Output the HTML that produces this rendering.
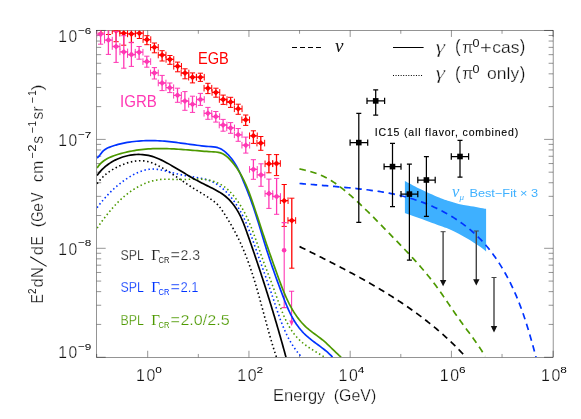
<!DOCTYPE html>
<html><head><meta charset="utf-8"><title>chart</title>
<style>html,body{margin:0;padding:0;background:#fff;}svg{display:block;will-change:transform;}text{font-family:"Liberation Sans",sans-serif;}.se{font-family:"Liberation Serif",serif;}</style>
</head><body>
<svg width="581" height="419" viewBox="0 0 581 419">
<rect width="581" height="419" fill="#fff"/>
<defs><clipPath id="cp"><rect x="96.70" y="30.45" width="456.40" height="326.80"/></clipPath></defs>
<g stroke="#000" stroke-width="0.42" fill="none">
<rect x="96.70" y="30.45" width="456.40" height="326.80"/>
<path d="M96.70 357.25 V353.95 M96.70 30.45 V33.75 M147.70 357.25 V350.75 M147.70 30.45 V36.95 M198.32 357.25 V353.95 M198.32 30.45 V33.75 M248.94 357.25 V350.75 M248.94 30.45 V36.95 M299.56 357.25 V353.95 M299.56 30.45 V33.75 M350.18 357.25 V350.75 M350.18 30.45 V36.95 M400.80 357.25 V353.95 M400.80 30.45 V33.75 M451.42 357.25 V350.75 M451.42 30.45 V36.95 M502.04 357.25 V353.95 M502.04 30.45 V33.75 M553.10 357.25 V350.75 M553.10 30.45 V36.95 M96.70 357.25 H105.70 M553.10 357.25 H544.10 M96.70 324.42 H101.20 M553.10 324.42 H548.60 M96.70 305.24 H101.20 M553.10 305.24 H548.60 M96.70 291.64 H101.20 M553.10 291.64 H548.60 M96.70 281.08 H101.20 M553.10 281.08 H548.60 M96.70 272.46 H101.20 M553.10 272.46 H548.60 M96.70 265.17 H101.20 M553.10 265.17 H548.60 M96.70 258.85 H101.20 M553.10 258.85 H548.60 M96.70 253.28 H101.20 M553.10 253.28 H548.60 M96.70 248.30 H105.70 M553.10 248.30 H544.10 M96.70 215.52 H101.20 M553.10 215.52 H548.60 M96.70 196.34 H101.20 M553.10 196.34 H548.60 M96.70 182.74 H101.20 M553.10 182.74 H548.60 M96.70 172.18 H101.20 M553.10 172.18 H548.60 M96.70 163.56 H101.20 M553.10 163.56 H548.60 M96.70 156.27 H101.20 M553.10 156.27 H548.60 M96.70 149.95 H101.20 M553.10 149.95 H548.60 M96.70 144.38 H101.20 M553.10 144.38 H548.60 M96.70 139.40 H105.70 M553.10 139.40 H544.10 M96.70 106.62 H101.20 M553.10 106.62 H548.60 M96.70 87.44 H101.20 M553.10 87.44 H548.60 M96.70 73.84 H101.20 M553.10 73.84 H548.60 M96.70 63.28 H101.20 M553.10 63.28 H548.60 M96.70 54.66 H101.20 M553.10 54.66 H548.60 M96.70 47.37 H101.20 M553.10 47.37 H548.60 M96.70 41.05 H101.20 M553.10 41.05 H548.60 M96.70 35.48 H101.20 M553.10 35.48 H548.60 M96.70 30.45 H105.70 M553.10 30.45 H544.10 "/>
</g>
<g clip-path="url(#cp)">
<path d="M404.90 181.00 C407.35 182.30 413.90 186.03 419.60 188.80 C425.30 191.57 434.22 195.55 439.10 197.60 C443.98 199.65 445.63 200.05 448.90 201.10 C452.17 202.15 455.43 203.12 458.70 203.90 C461.97 204.68 465.23 205.22 468.50 205.80 C471.77 206.38 475.37 206.90 478.30 207.40 C481.23 207.90 484.80 208.57 486.10 208.80 L486.10 251.40 C484.80 250.43 481.23 247.62 478.30 245.60 C475.37 243.58 471.77 241.27 468.50 239.30 C465.23 237.33 461.97 235.53 458.70 233.80 C455.43 232.07 452.17 230.30 448.90 228.90 C445.63 227.50 443.98 227.18 439.10 225.40 C434.22 223.62 425.30 220.28 419.60 218.20 C413.90 216.12 407.35 213.78 404.90 212.90 Z" fill="#3eb0ff"/>
<g stroke="#ff0000" stroke-width="1.30" fill="none"><path d="M100.90 18.00 V33.00 M97.05 24.00 H104.75"/><path stroke-width="1" d="M98.30 18.00 H103.50 M98.30 33.00 H103.50 M97.05 20.70 V27.30 M104.75 20.70 V27.30"/></g><path d="M98.95 24.00 L100.90 22.05 L102.85 24.00 L100.90 25.95Z" fill="#ff0000" stroke="#ff0000" stroke-width="1.5" stroke-linejoin="round"/>
<g stroke="#ff0000" stroke-width="1.30" fill="none"><path d="M108.50 20.00 V34.50 M104.65 25.00 H112.35"/><path stroke-width="1" d="M105.90 20.00 H111.10 M105.90 34.50 H111.10 M104.65 21.70 V28.30 M112.35 21.70 V28.30"/></g><path d="M106.55 25.00 L108.50 23.05 L110.45 25.00 L108.50 26.95Z" fill="#ff0000" stroke="#ff0000" stroke-width="1.5" stroke-linejoin="round"/>
<g stroke="#ff0000" stroke-width="1.30" fill="none"><path d="M116.10 24.00 V41.70 M112.25 30.80 H119.95"/><path stroke-width="1" d="M113.50 24.00 H118.70 M113.50 41.70 H118.70 M112.25 27.50 V34.10 M119.95 27.50 V34.10"/></g><path d="M114.15 30.80 L116.10 28.85 L118.05 30.80 L116.10 32.75Z" fill="#ff0000" stroke="#ff0000" stroke-width="1.5" stroke-linejoin="round"/>
<g stroke="#ff0000" stroke-width="1.30" fill="none"><path d="M123.70 26.00 V45.20 M119.85 33.20 H127.55"/><path stroke-width="1" d="M121.10 26.00 H126.30 M121.10 45.20 H126.30 M119.85 29.90 V36.50 M127.55 29.90 V36.50"/></g><path d="M121.75 33.20 L123.70 31.25 L125.65 33.20 L123.70 35.15Z" fill="#ff0000" stroke="#ff0000" stroke-width="1.5" stroke-linejoin="round"/>
<g stroke="#ff0000" stroke-width="1.30" fill="none"><path d="M131.40 28.00 V42.60 M127.55 33.90 H135.25"/><path stroke-width="1" d="M128.80 28.00 H134.00 M128.80 42.60 H134.00 M127.55 30.60 V37.20 M135.25 30.60 V37.20"/></g><path d="M129.45 33.90 L131.40 31.95 L133.35 33.90 L131.40 35.85Z" fill="#ff0000" stroke="#ff0000" stroke-width="1.5" stroke-linejoin="round"/>
<g stroke="#ff0000" stroke-width="1.30" fill="none"><path d="M139.40 28.00 V38.50 M135.55 33.20 H143.25"/><path stroke-width="1" d="M136.80 28.00 H142.00 M136.80 38.50 H142.00 M135.55 29.90 V36.50 M143.25 29.90 V36.50"/></g><path d="M137.45 33.20 L139.40 31.25 L141.35 33.20 L139.40 35.15Z" fill="#ff0000" stroke="#ff0000" stroke-width="1.5" stroke-linejoin="round"/>
<g stroke="#ff0000" stroke-width="1.30" fill="none"><path d="M146.90 35.70 V44.70 M143.05 39.60 H150.75"/><path stroke-width="1" d="M144.30 35.70 H149.50 M144.30 44.70 H149.50 M143.05 36.30 V42.90 M150.75 36.30 V42.90"/></g><path d="M144.95 39.60 L146.90 37.65 L148.85 39.60 L146.90 41.55Z" fill="#ff0000" stroke="#ff0000" stroke-width="1.5" stroke-linejoin="round"/>
<g stroke="#ff0000" stroke-width="1.30" fill="none"><path d="M154.40 43.00 V52.80 M150.55 47.30 H158.25"/><path stroke-width="1" d="M151.80 43.00 H157.00 M151.80 52.80 H157.00 M150.55 44.00 V50.60 M158.25 44.00 V50.60"/></g><path d="M152.45 47.30 L154.40 45.35 L156.35 47.30 L154.40 49.25Z" fill="#ff0000" stroke="#ff0000" stroke-width="1.5" stroke-linejoin="round"/>
<g stroke="#ff0000" stroke-width="1.30" fill="none"><path d="M162.10 50.70 V61.00 M158.25 55.00 H165.95"/><path stroke-width="1" d="M159.50 50.70 H164.70 M159.50 61.00 H164.70 M158.25 51.70 V58.30 M165.95 51.70 V58.30"/></g><path d="M160.15 55.00 L162.10 53.05 L164.05 55.00 L162.10 56.95Z" fill="#ff0000" stroke="#ff0000" stroke-width="1.5" stroke-linejoin="round"/>
<g stroke="#ff0000" stroke-width="1.30" fill="none"><path d="M169.90 55.50 V64.30 M166.05 59.40 H173.75"/><path stroke-width="1" d="M167.30 55.50 H172.50 M167.30 64.30 H172.50 M166.05 56.10 V62.70 M173.75 56.10 V62.70"/></g><path d="M167.95 59.40 L169.90 57.45 L171.85 59.40 L169.90 61.35Z" fill="#ff0000" stroke="#ff0000" stroke-width="1.5" stroke-linejoin="round"/>
<g stroke="#ff0000" stroke-width="1.30" fill="none"><path d="M177.60 62.10 V71.80 M173.75 66.30 H181.45"/><path stroke-width="1" d="M175.00 62.10 H180.20 M175.00 71.80 H180.20 M173.75 63.00 V69.60 M181.45 63.00 V69.60"/></g><path d="M175.65 66.30 L177.60 64.35 L179.55 66.30 L177.60 68.25Z" fill="#ff0000" stroke="#ff0000" stroke-width="1.5" stroke-linejoin="round"/>
<g stroke="#ff0000" stroke-width="1.30" fill="none"><path d="M185.00 68.80 V78.80 M181.15 73.00 H188.85"/><path stroke-width="1" d="M182.40 68.80 H187.60 M182.40 78.80 H187.60 M181.15 69.70 V76.30 M188.85 69.70 V76.30"/></g><path d="M183.05 73.00 L185.00 71.05 L186.95 73.00 L185.00 74.95Z" fill="#ff0000" stroke="#ff0000" stroke-width="1.5" stroke-linejoin="round"/>
<g stroke="#ff0000" stroke-width="1.30" fill="none"><path d="M192.50 72.90 V82.90 M188.65 77.20 H196.35"/><path stroke-width="1" d="M189.90 72.90 H195.10 M189.90 82.90 H195.10 M188.65 73.90 V80.50 M196.35 73.90 V80.50"/></g><path d="M190.55 77.20 L192.50 75.25 L194.45 77.20 L192.50 79.15Z" fill="#ff0000" stroke="#ff0000" stroke-width="1.5" stroke-linejoin="round"/>
<g stroke="#ff0000" stroke-width="1.30" fill="none"><path d="M200.40 73.20 V81.40 M196.55 77.20 H204.25"/><path stroke-width="1" d="M197.80 73.20 H203.00 M197.80 81.40 H203.00 M196.55 73.90 V80.50 M204.25 73.90 V80.50"/></g><path d="M198.45 77.20 L200.40 75.25 L202.35 77.20 L200.40 79.15Z" fill="#ff0000" stroke="#ff0000" stroke-width="1.5" stroke-linejoin="round"/>
<g stroke="#ff0000" stroke-width="1.30" fill="none"><path d="M207.90 83.30 V93.60 M204.05 88.20 H211.75"/><path stroke-width="1" d="M205.30 83.30 H210.50 M205.30 93.60 H210.50 M204.05 84.90 V91.50 M211.75 84.90 V91.50"/></g><path d="M205.95 88.20 L207.90 86.25 L209.85 88.20 L207.90 90.15Z" fill="#ff0000" stroke="#ff0000" stroke-width="1.5" stroke-linejoin="round"/>
<g stroke="#ff0000" stroke-width="1.30" fill="none"><path d="M215.90 88.20 V97.20 M212.05 92.40 H219.75"/><path stroke-width="1" d="M213.30 88.20 H218.50 M213.30 97.20 H218.50 M212.05 89.10 V95.70 M219.75 89.10 V95.70"/></g><path d="M213.95 92.40 L215.90 90.45 L217.85 92.40 L215.90 94.35Z" fill="#ff0000" stroke="#ff0000" stroke-width="1.5" stroke-linejoin="round"/>
<g stroke="#ff0000" stroke-width="1.30" fill="none"><path d="M223.20 95.10 V104.40 M219.35 99.50 H227.05"/><path stroke-width="1" d="M220.60 95.10 H225.80 M220.60 104.40 H225.80 M219.35 96.20 V102.80 M227.05 96.20 V102.80"/></g><path d="M221.25 99.50 L223.20 97.55 L225.15 99.50 L223.20 101.45Z" fill="#ff0000" stroke="#ff0000" stroke-width="1.5" stroke-linejoin="round"/>
<g stroke="#ff0000" stroke-width="1.30" fill="none"><path d="M230.60 97.30 V107.40 M226.75 102.00 H234.45"/><path stroke-width="1" d="M228.00 97.30 H233.20 M228.00 107.40 H233.20 M226.75 98.70 V105.30 M234.45 98.70 V105.30"/></g><path d="M228.65 102.00 L230.60 100.05 L232.55 102.00 L230.60 103.95Z" fill="#ff0000" stroke="#ff0000" stroke-width="1.5" stroke-linejoin="round"/>
<g stroke="#ff0000" stroke-width="1.30" fill="none"><path d="M238.20 104.20 V114.30 M234.35 108.80 H242.05"/><path stroke-width="1" d="M235.60 104.20 H240.80 M235.60 114.30 H240.80 M234.35 105.50 V112.10 M242.05 105.50 V112.10"/></g><path d="M236.25 108.80 L238.20 106.85 L240.15 108.80 L238.20 110.75Z" fill="#ff0000" stroke="#ff0000" stroke-width="1.5" stroke-linejoin="round"/>
<g stroke="#ff0000" stroke-width="1.30" fill="none"><path d="M245.70 115.00 V125.40 M241.85 119.80 H249.55"/><path stroke-width="1" d="M243.10 115.00 H248.30 M243.10 125.40 H248.30 M241.85 116.50 V123.10 M249.55 116.50 V123.10"/></g><path d="M243.75 119.80 L245.70 117.85 L247.65 119.80 L245.70 121.75Z" fill="#ff0000" stroke="#ff0000" stroke-width="1.5" stroke-linejoin="round"/>
<g stroke="#ff0000" stroke-width="1.30" fill="none"><path d="M253.40 130.80 V143.40 M249.55 135.80 H257.25"/><path stroke-width="1" d="M250.80 130.80 H256.00 M250.80 143.40 H256.00 M249.55 132.50 V139.10 M257.25 132.50 V139.10"/></g><path d="M251.45 135.80 L253.40 133.85 L255.35 135.80 L253.40 137.75Z" fill="#ff0000" stroke="#ff0000" stroke-width="1.5" stroke-linejoin="round"/>
<g stroke="#ff0000" stroke-width="1.30" fill="none"><path d="M260.80 136.50 V150.30 M256.95 143.10 H264.65"/><path stroke-width="1" d="M258.20 136.50 H263.40 M258.20 150.30 H263.40 M256.95 139.80 V146.40 M264.65 139.80 V146.40"/></g><path d="M258.85 143.10 L260.80 141.15 L262.75 143.10 L260.80 145.05Z" fill="#ff0000" stroke="#ff0000" stroke-width="1.5" stroke-linejoin="round"/>
<g stroke="#ff0000" stroke-width="1.30" fill="none"><path d="M268.90 154.60 V172.80 M265.05 163.80 H272.75"/><path stroke-width="1" d="M266.30 154.60 H271.50 M266.30 172.80 H271.50 M265.05 160.50 V167.10 M272.75 160.50 V167.10"/></g><path d="M266.95 163.80 L268.90 161.85 L270.85 163.80 L268.90 165.75Z" fill="#ff0000" stroke="#ff0000" stroke-width="1.5" stroke-linejoin="round"/>
<g stroke="#ff0000" stroke-width="1.30" fill="none"><path d="M276.50 154.60 V175.60 M272.65 163.50 H280.35"/><path stroke-width="1" d="M273.90 154.60 H279.10 M273.90 175.60 H279.10 M272.65 160.20 V166.80 M280.35 160.20 V166.80"/></g><path d="M274.55 163.50 L276.50 161.55 L278.45 163.50 L276.50 165.45Z" fill="#ff0000" stroke="#ff0000" stroke-width="1.5" stroke-linejoin="round"/>
<g stroke="#ff0000" stroke-width="1.30" fill="none"><path d="M284.20 184.50 V226.40 M280.35 200.70 H288.05"/><path stroke-width="1" d="M281.60 184.50 H286.80 M281.60 226.40 H286.80 M280.35 197.40 V204.00 M288.05 197.40 V204.00"/></g><path d="M282.25 200.70 L284.20 198.75 L286.15 200.70 L284.20 202.65Z" fill="#ff0000" stroke="#ff0000" stroke-width="1.5" stroke-linejoin="round"/>
<g stroke="#ff0000" stroke-width="1.30" fill="none"><path d="M291.80 198.20 V268.20 M287.95 220.50 H295.65"/><path stroke-width="1" d="M289.20 198.20 H294.40 M289.20 268.20 H294.40 M287.95 217.20 V223.80 M295.65 217.20 V223.80"/></g><path d="M289.85 220.50 L291.80 218.55 L293.75 220.50 L291.80 222.45Z" fill="#ff0000" stroke="#ff0000" stroke-width="1.5" stroke-linejoin="round"/>
<g stroke="#ff38b4" stroke-width="1.30" fill="none"><path d="M100.60 26.00 V44.20 M96.75 34.20 H104.45"/><path stroke-width="1" d="M98.00 26.00 H103.20 M98.00 44.20 H103.20 M96.75 30.90 V37.50 M104.45 30.90 V37.50"/></g><path d="M98.65 34.20 L100.60 32.25 L102.55 34.20 L100.60 36.15Z" fill="#ff38b4" stroke="#ff38b4" stroke-width="1.5" stroke-linejoin="round"/>
<g stroke="#ff38b4" stroke-width="1.30" fill="none"><path d="M108.40 28.00 V54.40 M104.55 40.10 H112.25"/><path stroke-width="1" d="M105.80 28.00 H111.00 M105.80 54.40 H111.00 M104.55 36.80 V43.40 M112.25 36.80 V43.40"/></g><path d="M106.45 40.10 L108.40 38.15 L110.35 40.10 L108.40 42.05Z" fill="#ff38b4" stroke="#ff38b4" stroke-width="1.5" stroke-linejoin="round"/>
<g stroke="#ff38b4" stroke-width="1.30" fill="none"><path d="M116.10 31.60 V62.40 M112.25 46.50 H119.95"/><path stroke-width="1" d="M113.50 31.60 H118.70 M113.50 62.40 H118.70 M112.25 43.20 V49.80 M119.95 43.20 V49.80"/></g><path d="M114.15 46.50 L116.10 44.55 L118.05 46.50 L116.10 48.45Z" fill="#ff38b4" stroke="#ff38b4" stroke-width="1.5" stroke-linejoin="round"/>
<g stroke="#ff38b4" stroke-width="1.30" fill="none"><path d="M123.80 35.70 V68.20 M119.95 51.90 H127.65"/><path stroke-width="1" d="M121.20 35.70 H126.40 M121.20 68.20 H126.40 M119.95 48.60 V55.20 M127.65 48.60 V55.20"/></g><path d="M121.85 51.90 L123.80 49.95 L125.75 51.90 L123.80 53.85Z" fill="#ff38b4" stroke="#ff38b4" stroke-width="1.5" stroke-linejoin="round"/>
<g stroke="#ff38b4" stroke-width="1.30" fill="none"><path d="M131.40 42.30 V66.40 M127.55 54.60 H135.25"/><path stroke-width="1" d="M128.80 42.30 H134.00 M128.80 66.40 H134.00 M127.55 51.30 V57.90 M135.25 51.30 V57.90"/></g><path d="M129.45 54.60 L131.40 52.65 L133.35 54.60 L131.40 56.55Z" fill="#ff38b4" stroke="#ff38b4" stroke-width="1.5" stroke-linejoin="round"/>
<g stroke="#ff38b4" stroke-width="1.30" fill="none"><path d="M139.10 46.50 V59.20 M135.25 52.20 H142.95"/><path stroke-width="1" d="M136.50 46.50 H141.70 M136.50 59.20 H141.70 M135.25 48.90 V55.50 M142.95 48.90 V55.50"/></g><path d="M137.15 52.20 L139.10 50.25 L141.05 52.20 L139.10 54.15Z" fill="#ff38b4" stroke="#ff38b4" stroke-width="1.5" stroke-linejoin="round"/>
<g stroke="#ff38b4" stroke-width="1.30" fill="none"><path d="M146.80 56.20 V67.20 M142.95 61.60 H150.65"/><path stroke-width="1" d="M144.20 56.20 H149.40 M144.20 67.20 H149.40 M142.95 58.30 V64.90 M150.65 58.30 V64.90"/></g><path d="M144.85 61.60 L146.80 59.65 L148.75 61.60 L146.80 63.55Z" fill="#ff38b4" stroke="#ff38b4" stroke-width="1.5" stroke-linejoin="round"/>
<g stroke="#ff38b4" stroke-width="1.30" fill="none"><path d="M154.40 67.60 V79.00 M150.55 72.90 H158.25"/><path stroke-width="1" d="M151.80 67.60 H157.00 M151.80 79.00 H157.00 M150.55 69.60 V76.20 M158.25 69.60 V76.20"/></g><path d="M152.45 72.90 L154.40 70.95 L156.35 72.90 L154.40 74.85Z" fill="#ff38b4" stroke="#ff38b4" stroke-width="1.5" stroke-linejoin="round"/>
<g stroke="#ff38b4" stroke-width="1.30" fill="none"><path d="M162.10 75.40 V90.60 M158.25 83.00 H165.95"/><path stroke-width="1" d="M159.50 75.40 H164.70 M159.50 90.60 H164.70 M158.25 79.70 V86.30 M165.95 79.70 V86.30"/></g><path d="M160.15 83.00 L162.10 81.05 L164.05 83.00 L162.10 84.95Z" fill="#ff38b4" stroke="#ff38b4" stroke-width="1.5" stroke-linejoin="round"/>
<g stroke="#ff38b4" stroke-width="1.30" fill="none"><path d="M169.80 83.00 V92.60 M165.95 87.70 H173.65"/><path stroke-width="1" d="M167.20 83.00 H172.40 M167.20 92.60 H172.40 M165.95 84.40 V91.00 M173.65 84.40 V91.00"/></g><path d="M167.85 87.70 L169.80 85.75 L171.75 87.70 L169.80 89.65Z" fill="#ff38b4" stroke="#ff38b4" stroke-width="1.5" stroke-linejoin="round"/>
<g stroke="#ff38b4" stroke-width="1.30" fill="none"><path d="M177.50 88.20 V102.30 M173.65 95.30 H181.35"/><path stroke-width="1" d="M174.90 88.20 H180.10 M174.90 102.30 H180.10 M173.65 92.00 V98.60 M181.35 92.00 V98.60"/></g><path d="M175.55 95.30 L177.50 93.35 L179.45 95.30 L177.50 97.25Z" fill="#ff38b4" stroke="#ff38b4" stroke-width="1.5" stroke-linejoin="round"/>
<g stroke="#ff38b4" stroke-width="1.30" fill="none"><path d="M184.90 91.60 V110.30 M181.05 101.00 H188.75"/><path stroke-width="1" d="M182.30 91.60 H187.50 M182.30 110.30 H187.50 M181.05 97.70 V104.30 M188.75 97.70 V104.30"/></g><path d="M182.95 101.00 L184.90 99.05 L186.85 101.00 L184.90 102.95Z" fill="#ff38b4" stroke="#ff38b4" stroke-width="1.5" stroke-linejoin="round"/>
<g stroke="#ff38b4" stroke-width="1.30" fill="none"><path d="M192.50 96.20 V112.40 M188.65 104.30 H196.35"/><path stroke-width="1" d="M189.90 96.20 H195.10 M189.90 112.40 H195.10 M188.65 101.00 V107.60 M196.35 101.00 V107.60"/></g><path d="M190.55 104.30 L192.50 102.35 L194.45 104.30 L192.50 106.25Z" fill="#ff38b4" stroke="#ff38b4" stroke-width="1.5" stroke-linejoin="round"/>
<g stroke="#ff38b4" stroke-width="1.30" fill="none"><path d="M200.40 93.40 V105.40 M196.55 99.50 H204.25"/><path stroke-width="1" d="M197.80 93.40 H203.00 M197.80 105.40 H203.00 M196.55 96.20 V102.80 M204.25 96.20 V102.80"/></g><path d="M198.45 99.50 L200.40 97.55 L202.35 99.50 L200.40 101.45Z" fill="#ff38b4" stroke="#ff38b4" stroke-width="1.5" stroke-linejoin="round"/>
<g stroke="#ff38b4" stroke-width="1.30" fill="none"><path d="M207.90 107.40 V119.30 M204.05 113.30 H211.75"/><path stroke-width="1" d="M205.30 107.40 H210.50 M205.30 119.30 H210.50 M204.05 110.00 V116.60 M211.75 110.00 V116.60"/></g><path d="M205.95 113.30 L207.90 111.35 L209.85 113.30 L207.90 115.25Z" fill="#ff38b4" stroke="#ff38b4" stroke-width="1.5" stroke-linejoin="round"/>
<g stroke="#ff38b4" stroke-width="1.30" fill="none"><path d="M215.80 111.50 V122.10 M211.95 116.60 H219.65"/><path stroke-width="1" d="M213.20 111.50 H218.40 M213.20 122.10 H218.40 M211.95 113.30 V119.90 M219.65 113.30 V119.90"/></g><path d="M213.85 116.60 L215.80 114.65 L217.75 116.60 L215.80 118.55Z" fill="#ff38b4" stroke="#ff38b4" stroke-width="1.5" stroke-linejoin="round"/>
<g stroke="#ff38b4" stroke-width="1.30" fill="none"><path d="M223.10 119.40 V131.20 M219.25 125.00 H226.95"/><path stroke-width="1" d="M220.50 119.40 H225.70 M220.50 131.20 H225.70 M219.25 121.70 V128.30 M226.95 121.70 V128.30"/></g><path d="M221.15 125.00 L223.10 123.05 L225.05 125.00 L223.10 126.95Z" fill="#ff38b4" stroke="#ff38b4" stroke-width="1.5" stroke-linejoin="round"/>
<g stroke="#ff38b4" stroke-width="1.30" fill="none"><path d="M230.60 122.60 V133.30 M226.75 127.90 H234.45"/><path stroke-width="1" d="M228.00 122.60 H233.20 M228.00 133.30 H233.20 M226.75 124.60 V131.20 M234.45 124.60 V131.20"/></g><path d="M228.65 127.90 L230.60 125.95 L232.55 127.90 L230.60 129.85Z" fill="#ff38b4" stroke="#ff38b4" stroke-width="1.5" stroke-linejoin="round"/>
<g stroke="#ff38b4" stroke-width="1.30" fill="none"><path d="M238.20 128.50 V141.30 M234.35 134.80 H242.05"/><path stroke-width="1" d="M235.60 128.50 H240.80 M235.60 141.30 H240.80 M234.35 131.50 V138.10 M242.05 131.50 V138.10"/></g><path d="M236.25 134.80 L238.20 132.85 L240.15 134.80 L238.20 136.75Z" fill="#ff38b4" stroke="#ff38b4" stroke-width="1.5" stroke-linejoin="round"/>
<g stroke="#ff38b4" stroke-width="1.30" fill="none"><path d="M245.80 137.10 V153.10 M241.95 145.20 H249.65"/><path stroke-width="1" d="M243.20 137.10 H248.40 M243.20 153.10 H248.40 M241.95 141.90 V148.50 M249.65 141.90 V148.50"/></g><path d="M243.85 145.20 L245.80 143.25 L247.75 145.20 L245.80 147.15Z" fill="#ff38b4" stroke="#ff38b4" stroke-width="1.5" stroke-linejoin="round"/>
<g stroke="#ff38b4" stroke-width="1.30" fill="none"><path d="M253.40 159.70 V179.30 M249.55 169.40 H257.25"/><path stroke-width="1" d="M250.80 159.70 H256.00 M250.80 179.30 H256.00 M249.55 166.10 V172.70 M257.25 166.10 V172.70"/></g><path d="M251.45 169.40 L253.40 167.45 L255.35 169.40 L253.40 171.35Z" fill="#ff38b4" stroke="#ff38b4" stroke-width="1.5" stroke-linejoin="round"/>
<g stroke="#ff38b4" stroke-width="1.30" fill="none"><path d="M261.00 163.80 V186.30 M257.15 174.90 H264.85"/><path stroke-width="1" d="M258.40 163.80 H263.60 M258.40 186.30 H263.60 M257.15 171.60 V178.20 M264.85 171.60 V178.20"/></g><path d="M259.05 174.90 L261.00 172.95 L262.95 174.90 L261.00 176.85Z" fill="#ff38b4" stroke="#ff38b4" stroke-width="1.5" stroke-linejoin="round"/>
<g stroke="#ff38b4" stroke-width="1.30" fill="none"><path d="M268.90 179.10 V208.40 M265.05 193.60 H272.75"/><path stroke-width="1" d="M266.30 179.10 H271.50 M266.30 208.40 H271.50 M265.05 190.30 V196.90 M272.75 190.30 V196.90"/></g><path d="M266.95 193.60 L268.90 191.65 L270.85 193.60 L268.90 195.55Z" fill="#ff38b4" stroke="#ff38b4" stroke-width="1.5" stroke-linejoin="round"/>
<g stroke="#ff38b4" stroke-width="1.30" fill="none"><path d="M276.60 178.40 V214.30 M272.75 196.50 H280.45"/><path stroke-width="1" d="M274.00 178.40 H279.20 M274.00 214.30 H279.20 M272.75 193.20 V199.80 M280.45 193.20 V199.80"/></g><path d="M274.65 196.50 L276.60 194.55 L278.55 196.50 L276.60 198.45Z" fill="#ff38b4" stroke="#ff38b4" stroke-width="1.5" stroke-linejoin="round"/>
<g stroke="#ff38b4" stroke-width="1.1"><path d="M284.2 222.6 V307.6 M281.6 222.6 H286.8 M281.6 307.6 H286.8"/></g><circle cx="284.1" cy="250.2" r="2.3" fill="#ff38b4"/>
<g stroke="#ff38b4" stroke-width="1.1"><path d="M291.6 291.3 V322 M289 291.3 H294.2"/></g><path d="M289.2 320.4 L294.0 320.4 L291.6 326.0Z" fill="#ff38b4"/>
<path d="M97.08 183.74 L98.27 182.12 L99.51 180.59 L100.79 179.12 L102.12 177.73 L103.49 176.40 L104.90 175.13 L106.35 173.93 L107.84 172.78 L109.37 171.68 L110.93 170.64 L112.54 169.64 L114.18 168.69 L115.85 167.79 L117.57 166.92 L119.31 166.09 L121.09 165.30 L122.90 164.54 L124.73 163.83 L126.59 163.18 L128.46 162.58 L130.35 162.06 L132.25 161.60 L134.15 161.23 L136.06 160.95 L137.96 160.77 L139.86 160.68 L141.75 160.71 L143.63 160.86 L145.48 161.13 L147.33 161.50 L149.15 161.98 L150.96 162.55 L152.75 163.21 L154.53 163.94 L156.28 164.73 L158.02 165.57 L159.74 166.47 L161.45 167.40 L163.13 168.36 L164.80 169.33 L166.45 170.33 L168.08 171.34 L169.70 172.37 L171.31 173.41 L172.91 174.46 L174.51 175.52 L176.09 176.58 L177.67 177.66 L179.25 178.73 L180.83 179.81 L182.40 180.89 L183.98 181.97 L185.56 183.05 L187.14 184.12 L188.73 185.18 L190.33 186.24 L191.94 187.28 L193.56 188.32 L195.20 189.34 L196.84 190.35 L198.49 191.35 L200.14 192.36 L201.79 193.36 L203.44 194.37 L205.08 195.38 L206.71 196.41 L208.33 197.46 L209.92 198.52 L211.50 199.61 L213.04 200.73 L214.54 201.89 L215.99 203.11 L217.36 204.39 L218.65 205.74 L219.84 207.17 L220.96 208.68 L222.02 210.24 L223.07 211.82 L224.11 213.42 L225.14 215.03 L226.16 216.65 L227.18 218.29 L228.19 219.93 L229.18 221.59 L230.16 223.25 L231.13 224.92 L232.09 226.60 L233.03 228.28 L233.95 229.97 L234.87 231.66 L235.76 233.37 L236.64 235.07 L237.51 236.79 L238.36 238.51 L239.19 240.24 L240.01 241.97 L240.81 243.71 L241.60 245.46 L242.37 247.21 L243.13 248.97 L243.87 250.74 L244.60 252.50 L245.32 254.28 L246.02 256.06 L246.71 257.84 L247.39 259.63 L248.05 261.43 L248.71 263.22 L249.35 265.03 L249.99 266.83 L250.61 268.64 L251.22 270.46 L251.83 272.28 L252.42 274.10 L253.01 275.92 L253.58 277.75 L254.15 279.58 L254.72 281.42 L255.27 283.25 L255.82 285.09 L256.36 286.93 L256.90 288.78 L257.43 290.62 L257.96 292.47 L258.48 294.32 L259.00 296.17 L259.52 298.02 L260.03 299.87 L260.54 301.73 L261.04 303.58 L261.54 305.44 L262.05 307.30 L262.55 309.15 L263.05 311.01 L263.55 312.87 L264.04 314.73 L264.54 316.58 L265.04 318.44 L265.54 320.30 L266.05 322.15 L266.55 324.01 L267.06 325.86 L267.57 327.71 L268.08 329.56 L268.60 331.41 L269.12 333.26 L269.64 335.10 L270.17 336.95 L270.70 338.79 L271.24 340.63 L271.79 342.47 L272.34 344.30 L272.90 346.13 L273.46 347.96 L274.04 349.78 L274.62 351.61 L275.21 353.42 L275.80 355.24 L276.41 357.05" fill="none" stroke="#000000" stroke-width="1.60" stroke-linejoin="round" stroke-dasharray="1.5 2.6"/>
<path d="M97.03 207.80 L98.25 206.16 L99.50 204.54 L100.77 202.92 L102.07 201.33 L103.39 199.75 L104.75 198.18 L106.12 196.64 L107.53 195.11 L108.96 193.61 L110.42 192.13 L111.90 190.67 L113.41 189.24 L114.95 187.83 L116.52 186.45 L118.11 185.10 L119.73 183.78 L121.38 182.50 L123.05 181.24 L124.75 180.02 L126.48 178.84 L128.24 177.69 L130.03 176.58 L131.84 175.51 L133.67 174.50 L135.54 173.55 L137.42 172.67 L139.33 171.87 L141.25 171.15 L143.20 170.53 L145.16 170.00 L147.15 169.58 L149.14 169.28 L151.16 169.10 L153.18 169.06 L155.22 169.14 L157.27 169.34 L159.32 169.63 L161.37 170.00 L163.42 170.42 L165.46 170.89 L167.49 171.39 L169.51 171.89 L171.53 172.40 L173.54 172.92 L175.55 173.43 L177.57 173.93 L179.58 174.41 L181.61 174.87 L183.65 175.30 L185.70 175.70 L187.77 176.07 L189.85 176.40 L191.93 176.73 L194.01 177.05 L196.09 177.38 L198.16 177.73 L200.22 178.11 L202.26 178.53 L204.27 179.00 L206.26 179.54 L208.21 180.15 L210.12 180.84 L212.00 181.63 L213.82 182.52 L215.61 183.50 L217.34 184.57 L219.04 185.71 L220.69 186.94 L222.29 188.24 L223.86 189.60 L225.38 191.02 L226.85 192.50 L228.28 194.03 L229.67 195.61 L231.02 197.23 L232.32 198.89 L233.59 200.57 L234.81 202.28 L235.98 204.01 L237.12 205.76 L238.22 207.53 L239.28 209.32 L240.30 211.12 L241.29 212.94 L242.25 214.77 L243.18 216.61 L244.08 218.47 L244.95 220.34 L245.80 222.23 L246.62 224.12 L247.43 226.02 L248.21 227.94 L248.97 229.86 L249.72 231.79 L250.45 233.72 L251.17 235.66 L251.88 237.61 L252.58 239.56 L253.28 241.52 L253.96 243.48 L254.64 245.44 L255.32 247.40 L256.00 249.36 L256.68 251.32 L257.37 253.28 L258.05 255.24 L258.74 257.20 L259.43 259.16 L260.12 261.12 L260.81 263.08 L261.51 265.03 L262.20 266.99 L262.90 268.95 L263.59 270.90 L264.29 272.86 L264.98 274.82 L265.68 276.77 L266.37 278.73 L267.06 280.69 L267.74 282.65 L268.43 284.61 L269.11 286.57 L269.79 288.53 L270.46 290.49 L271.13 292.45 L271.80 294.42 L272.46 296.38 L273.12 298.35 L273.77 300.32 L274.42 302.29 L275.07 304.26 L275.72 306.23 L276.37 308.20 L277.03 310.16 L277.70 312.13 L278.38 314.09 L279.06 316.04 L279.76 317.99 L280.48 319.94 L281.21 321.88 L281.96 323.81 L282.73 325.74 L283.53 327.65 L284.35 329.56 L285.20 331.46 L286.07 333.35 L286.98 335.22 L287.91 337.09 L288.88 338.93 L289.89 340.75 L290.92 342.56 L292.00 344.33 L293.11 346.09 L294.26 347.81 L295.45 349.51 L296.68 351.17 L297.96 352.80 L299.28 354.39 L300.64 355.94" fill="none" stroke="#0033ff" stroke-width="1.60" stroke-linejoin="round" stroke-dasharray="1.5 2.6"/>
<path d="M97.11 228.14 L98.34 226.38 L99.58 224.61 L100.84 222.84 L102.13 221.07 L103.43 219.30 L104.76 217.55 L106.11 215.80 L107.48 214.06 L108.87 212.34 L110.29 210.64 L111.73 208.95 L113.20 207.28 L114.69 205.64 L116.21 204.02 L117.76 202.43 L119.34 200.87 L120.95 199.35 L122.59 197.86 L124.25 196.40 L125.95 194.99 L127.68 193.62 L129.45 192.29 L131.25 191.01 L133.08 189.78 L134.93 188.60 L136.82 187.48 L138.74 186.42 L140.69 185.41 L142.66 184.48 L144.66 183.61 L146.68 182.81 L148.72 182.08 L150.79 181.43 L152.89 180.85 L155.00 180.36 L157.13 179.96 L159.29 179.64 L161.46 179.41 L163.64 179.27 L165.85 179.22 L168.06 179.23 L170.29 179.29 L172.52 179.38 L174.76 179.47 L177.00 179.55 L179.23 179.59 L181.46 179.59 L183.68 179.53 L185.90 179.44 L188.11 179.33 L190.32 179.22 L192.52 179.11 L194.72 179.04 L196.92 179.00 L199.11 179.01 L201.29 179.10 L203.48 179.27 L205.66 179.54 L207.82 179.90 L209.97 180.36 L212.09 180.91 L214.18 181.57 L216.23 182.33 L218.23 183.20 L220.18 184.17 L222.07 185.25 L223.90 186.45 L225.65 187.76 L227.34 189.17 L228.96 190.67 L230.51 192.25 L232.01 193.90 L233.45 195.60 L234.83 197.34 L236.17 199.12 L237.46 200.92 L238.71 202.74 L239.91 204.59 L241.08 206.46 L242.20 208.35 L243.28 210.26 L244.33 212.19 L245.34 214.14 L246.32 216.11 L247.27 218.09 L248.19 220.09 L249.08 222.10 L249.94 224.13 L250.78 226.17 L251.60 228.22 L252.40 230.28 L253.18 232.34 L253.94 234.42 L254.70 236.50 L255.44 238.58 L256.17 240.67 L256.89 242.75 L257.62 244.84 L258.33 246.93 L259.05 249.02 L259.77 251.10 L260.50 253.18 L261.23 255.25 L261.97 257.31 L262.72 259.37 L263.47 261.43 L264.23 263.47 L264.99 265.52 L265.76 267.56 L266.53 269.61 L267.31 271.65 L268.08 273.69 L268.86 275.73 L269.64 277.78 L270.41 279.82 L271.19 281.88 L271.96 283.93 L272.73 286.00 L273.49 288.07 L274.25 290.14 L275.01 292.23 L275.76 294.32 L276.50 296.42 L277.25 298.53 L277.99 300.64 L278.75 302.74 L279.51 304.85 L280.29 306.95 L281.08 309.03 L281.89 311.11 L282.73 313.17 L283.58 315.22 L284.47 317.25 L285.39 319.25 L286.35 321.23 L287.34 323.18 L288.38 325.11 L289.46 327.00 L290.59 328.85 L291.78 330.67 L293.01 332.44 L294.31 334.17 L295.67 335.86 L297.09 337.49 L298.58 339.08 L300.14 340.61 L301.78 342.08 L303.48 343.50 L305.25 344.87 L307.06 346.20 L308.91 347.48 L310.79 348.72 L312.69 349.93 L314.60 351.12 L316.51 352.27 L318.40 353.41 L320.28 354.53 L322.12 355.64 L323.92 356.75" fill="none" stroke="#4d9900" stroke-width="1.60" stroke-linejoin="round" stroke-dasharray="1.5 2.6"/>
<path d="M97.04 175.52 L98.22 173.91 L99.46 172.36 L100.78 170.86 L102.16 169.42 L103.60 168.04 L105.11 166.72 L106.66 165.46 L108.27 164.26 L109.93 163.13 L111.63 162.06 L113.38 161.06 L115.16 160.12 L116.99 159.25 L118.84 158.45 L120.72 157.72 L122.63 157.06 L124.56 156.47 L126.52 155.96 L128.49 155.52 L130.47 155.15 L132.46 154.86 L134.46 154.65 L136.46 154.52 L138.46 154.47 L140.46 154.50 L142.45 154.61 L144.43 154.81 L146.40 155.08 L148.36 155.45 L150.29 155.90 L152.20 156.43 L154.10 157.04 L155.97 157.72 L157.83 158.46 L159.68 159.26 L161.50 160.11 L163.32 161.00 L165.11 161.93 L166.90 162.89 L168.67 163.88 L170.44 164.88 L172.19 165.90 L173.93 166.92 L175.66 167.94 L177.39 168.97 L179.12 170.01 L180.83 171.04 L182.55 172.07 L184.27 173.10 L185.98 174.13 L187.70 175.15 L189.42 176.16 L191.14 177.17 L192.87 178.17 L194.61 179.15 L196.36 180.12 L198.11 181.08 L199.88 182.02 L201.66 182.95 L203.45 183.86 L205.25 184.75 L207.06 185.63 L208.87 186.52 L210.68 187.41 L212.48 188.30 L214.27 189.22 L216.04 190.16 L217.78 191.14 L219.50 192.15 L221.19 193.21 L222.83 194.32 L224.43 195.50 L225.97 196.75 L227.46 198.07 L228.89 199.45 L230.27 200.90 L231.59 202.41 L232.86 203.96 L234.08 205.57 L235.24 207.21 L236.35 208.90 L237.41 210.62 L238.42 212.37 L239.38 214.15 L240.29 215.94 L241.15 217.76 L241.97 219.59 L242.76 221.43 L243.51 223.29 L244.24 225.16 L244.95 227.04 L245.64 228.92 L246.32 230.81 L247.00 232.70 L247.67 234.60 L248.33 236.49 L249.00 238.38 L249.66 240.28 L250.32 242.17 L250.98 244.07 L251.64 245.97 L252.29 247.86 L252.95 249.76 L253.60 251.66 L254.25 253.56 L254.89 255.46 L255.54 257.36 L256.18 259.26 L256.82 261.16 L257.46 263.06 L258.09 264.96 L258.72 266.87 L259.36 268.77 L259.99 270.68 L260.61 272.58 L261.24 274.49 L261.86 276.39 L262.48 278.30 L263.10 280.21 L263.71 282.12 L264.33 284.02 L264.94 285.93 L265.55 287.84 L266.16 289.76 L266.76 291.67 L267.36 293.58 L267.96 295.49 L268.56 297.41 L269.16 299.32 L269.75 301.24 L270.34 303.15 L270.93 305.07 L271.52 306.99 L272.10 308.91 L272.69 310.82 L273.27 312.74 L273.84 314.66 L274.42 316.59 L274.99 318.51 L275.56 320.43 L276.13 322.35 L276.70 324.28 L277.26 326.20 L277.82 328.13 L278.38 330.06 L278.94 331.98 L279.49 333.91 L280.04 335.84 L280.59 337.77 L281.14 339.70 L281.68 341.63 L282.23 343.57 L282.77 345.50 L283.30 347.43 L283.84 349.37 L284.37 351.30 L284.90 353.24 L285.43 355.18 L285.96 357.12" fill="none" stroke="#000000" stroke-width="1.70" stroke-linejoin="round"/>
<path d="M97.11 158.00 L98.82 156.46 L100.27 154.59 L101.67 152.64 L103.23 150.89 L105.03 149.47 L107.04 148.31 L109.17 147.34 L111.39 146.51 L113.62 145.76 L115.87 145.06 L118.12 144.43 L120.39 143.86 L122.67 143.34 L124.96 142.87 L127.26 142.46 L129.57 142.09 L131.88 141.76 L134.20 141.47 L136.52 141.23 L138.84 141.03 L141.17 140.86 L143.51 140.74 L145.84 140.65 L148.18 140.60 L150.51 140.59 L152.85 140.61 L155.19 140.66 L157.52 140.75 L159.85 140.87 L162.18 141.02 L164.51 141.19 L166.83 141.40 L169.15 141.63 L171.46 141.88 L173.78 142.15 L176.09 142.43 L178.40 142.73 L180.71 143.04 L183.03 143.36 L185.34 143.68 L187.65 144.00 L189.97 144.32 L192.28 144.64 L194.60 144.94 L196.92 145.24 L199.25 145.53 L201.58 145.80 L203.92 146.06 L206.26 146.29 L208.60 146.50 L210.95 146.68 L213.30 146.87 L215.60 147.18 L217.84 147.69 L219.97 148.49 L222.00 149.59 L223.91 150.92 L225.73 152.41 L227.45 154.01 L229.08 155.69 L230.62 157.46 L232.08 159.29 L233.45 161.19 L234.75 163.15 L235.96 165.15 L237.11 167.19 L238.19 169.27 L239.21 171.36 L240.18 173.48 L241.10 175.61 L242.00 177.75 L242.89 179.90 L243.77 182.06 L244.65 184.22 L245.53 186.39 L246.41 188.55 L247.28 190.73 L248.15 192.90 L248.99 195.08 L249.82 197.27 L250.63 199.46 L251.42 201.66 L252.20 203.86 L252.97 206.07 L253.72 208.28 L254.46 210.49 L255.19 212.71 L255.91 214.93 L256.62 217.16 L257.32 219.38 L258.02 221.61 L258.71 223.84 L259.40 226.07 L260.08 228.31 L260.76 230.54 L261.43 232.77 L262.11 235.01 L262.79 237.24 L263.46 239.48 L264.14 241.71 L264.83 243.95 L265.52 246.18 L266.21 248.41 L266.91 250.64 L267.61 252.87 L268.33 255.09 L269.05 257.31 L269.78 259.53 L270.53 261.75 L271.27 263.96 L272.03 266.17 L272.80 268.38 L273.57 270.59 L274.34 272.79 L275.13 275.00 L275.92 277.20 L276.71 279.39 L277.51 281.59 L278.32 283.78 L279.13 285.97 L279.94 288.16 L280.76 290.34 L281.58 292.53 L282.40 294.71 L283.23 296.89 L284.06 299.06 L284.91 301.23 L285.77 303.40 L286.65 305.55 L287.57 307.70 L288.52 309.83 L289.50 311.95 L290.53 314.05 L291.61 316.13 L292.75 318.20 L293.93 320.23 L295.17 322.23 L296.46 324.19 L297.81 326.11 L299.22 327.97 L300.70 329.79 L302.23 331.55 L303.83 333.24 L305.49 334.86 L307.21 336.43 L308.98 337.94 L310.79 339.40 L312.64 340.84 L314.50 342.25 L316.38 343.64 L318.27 345.03 L320.16 346.42 L322.03 347.83 L323.88 349.26 L325.70 350.72 L327.48 352.22 L329.22 353.78 L330.90 355.39 L332.51 357.08" fill="none" stroke="#0033ff" stroke-width="1.70" stroke-linejoin="round"/>
<path d="M97.09 167.93 L98.49 165.91 L100.04 164.10 L101.72 162.47 L103.52 161.02 L105.42 159.72 L107.42 158.56 L109.50 157.52 L111.64 156.60 L113.83 155.76 L116.06 155.01 L118.32 154.31 L120.59 153.66 L122.86 153.05 L125.14 152.47 L127.43 151.94 L129.71 151.44 L132.01 150.98 L134.30 150.57 L136.61 150.19 L138.92 149.86 L141.23 149.57 L143.56 149.32 L145.88 149.11 L148.21 148.94 L150.54 148.80 L152.88 148.70 L155.22 148.63 L157.56 148.58 L159.90 148.57 L162.25 148.58 L164.59 148.61 L166.93 148.67 L169.28 148.75 L171.62 148.85 L173.96 148.96 L176.30 149.09 L178.63 149.23 L180.97 149.39 L183.30 149.56 L185.64 149.73 L187.97 149.92 L190.30 150.11 L192.63 150.30 L194.96 150.50 L197.29 150.70 L199.61 150.90 L201.94 151.10 L204.27 151.29 L206.60 151.47 L208.93 151.62 L211.28 151.73 L213.62 151.84 L215.97 152.02 L218.30 152.35 L220.58 152.91 L222.73 153.78 L224.73 154.95 L226.60 156.36 L228.35 157.94 L230.02 159.63 L231.61 161.38 L233.13 163.17 L234.58 165.00 L235.97 166.88 L237.30 168.78 L238.57 170.73 L239.78 172.71 L240.95 174.72 L242.06 176.76 L243.13 178.82 L244.16 180.91 L245.14 183.03 L246.09 185.16 L247.01 187.32 L247.90 189.49 L248.76 191.67 L249.59 193.87 L250.41 196.08 L251.20 198.30 L251.98 200.52 L252.75 202.75 L253.51 204.98 L254.27 207.21 L255.02 209.44 L255.76 211.67 L256.50 213.90 L257.24 216.13 L257.97 218.36 L258.70 220.59 L259.43 222.81 L260.16 225.04 L260.89 227.26 L261.62 229.48 L262.36 231.70 L263.09 233.91 L263.83 236.12 L264.57 238.33 L265.31 240.53 L266.06 242.73 L266.81 244.93 L267.57 247.12 L268.33 249.32 L269.09 251.51 L269.85 253.71 L270.62 255.90 L271.40 258.10 L272.17 260.29 L272.95 262.49 L273.73 264.69 L274.52 266.89 L275.31 269.10 L276.10 271.31 L276.89 273.52 L277.69 275.74 L278.49 277.96 L279.30 280.18 L280.12 282.40 L280.95 284.62 L281.79 286.84 L282.65 289.04 L283.53 291.24 L284.43 293.43 L285.36 295.60 L286.31 297.75 L287.29 299.89 L288.31 302.00 L289.35 304.10 L290.44 306.16 L291.56 308.20 L292.73 310.21 L293.94 312.18 L295.20 314.12 L296.50 316.03 L297.86 317.89 L299.28 319.71 L300.75 321.49 L302.28 323.22 L303.87 324.90 L305.53 326.54 L307.26 328.11 L309.05 329.64 L310.90 331.12 L312.79 332.57 L314.70 333.99 L316.62 335.41 L318.54 336.82 L320.43 338.26 L322.28 339.71 L324.08 341.20 L325.82 342.73 L327.51 344.29 L329.18 345.88 L330.83 347.49 L332.48 349.10 L334.13 350.72 L335.81 352.34 L337.52 353.94 L339.28 355.53 L341.10 357.10" fill="none" stroke="#4d9900" stroke-width="1.70" stroke-linejoin="round"/>
<path d="M299.56 246.56 L300.69 247.12 L301.81 247.68 L302.94 248.23 L304.07 248.79 L305.20 249.35 L306.33 249.91 L307.46 250.47 L308.59 251.03 L309.72 251.60 L310.85 252.16 L311.98 252.72 L313.11 253.28 L314.24 253.85 L315.37 254.41 L316.50 254.98 L317.63 255.54 L318.76 256.11 L319.89 256.68 L321.02 257.25 L322.15 257.82 L323.28 258.39 L324.41 258.96 L325.54 259.53 L326.67 260.10 L327.80 260.68 L328.92 261.25 L330.05 261.83 L331.18 262.41 L332.31 262.98 L333.44 263.56 L334.56 264.14 L335.69 264.73 L336.81 265.31 L337.94 265.89 L339.07 266.48 L340.19 267.07 L341.31 267.65 L342.44 268.24 L343.56 268.83 L344.68 269.43 L345.80 270.02 L346.92 270.61 L348.04 271.21 L349.16 271.81 L350.28 272.41 L351.40 273.01 L352.52 273.61 L353.63 274.22 L354.75 274.82 L355.86 275.43 L356.98 276.04 L358.09 276.65 L359.20 277.26 L360.31 277.88 L361.42 278.49 L362.53 279.11 L363.64 279.73 L364.74 280.35 L365.85 280.98 L366.95 281.60 L368.05 282.23 L369.16 282.86 L370.26 283.49 L371.35 284.12 L372.45 284.76 L373.55 285.40 L374.64 286.03 L375.74 286.68 L376.83 287.32 L377.92 287.97 L379.01 288.61 L380.10 289.26 L381.19 289.92 L382.27 290.57 L383.35 291.23 L384.44 291.89 L385.52 292.55 L386.59 293.22 L387.67 293.88 L388.75 294.55 L389.82 295.22 L390.89 295.90 L391.96 296.58 L393.03 297.26 L394.10 297.94 L395.16 298.62 L396.22 299.31 L397.28 300.00 L398.34 300.69 L399.40 301.39 L400.46 302.08 L401.51 302.79 L402.56 303.49 L403.61 304.20 L404.66 304.90 L405.70 305.62 L406.74 306.33 L407.78 307.05 L408.82 307.77 L409.86 308.49 L410.89 309.22 L411.92 309.95 L412.95 310.68 L413.98 311.42 L415.00 312.16 L416.03 312.90 L417.05 313.65 L418.06 314.40 L419.08 315.15 L420.09 315.90 L421.10 316.66 L422.11 317.42 L423.11 318.19 L424.12 318.96 L425.12 319.73 L426.11 320.50 L427.11 321.28 L428.10 322.06 L429.09 322.85 L430.08 323.64 L431.06 324.43 L432.04 325.23 L433.02 326.03 L433.99 326.83 L434.97 327.64 L435.94 328.45 L436.90 329.26 L437.87 330.08 L438.83 330.90 L439.78 331.73 L440.74 332.56 L441.69 333.39 L442.64 334.23 L443.59 335.07 L444.53 335.91 L445.47 336.76 L446.40 337.62 L447.34 338.47 L448.27 339.33 L449.19 340.20 L450.11 341.07 L451.03 341.94 L451.95 342.82 L452.86 343.70 L453.77 344.59 L454.68 345.47 L455.58 346.37 L456.48 347.27 L457.38 348.17 L458.27 349.08 L459.16 349.99 L460.04 350.90 L460.93 351.82 L461.80 352.75 L462.68 353.68 L463.55 354.61 L464.42 355.55 L465.28 356.49 L466.14 357.44" fill="none" stroke="#000000" stroke-width="1.70" stroke-linejoin="round" stroke-dasharray="6.5 4.7"/>
<path d="M299.45 168.86 L301.10 169.22 L302.76 169.59 L304.41 169.98 L306.06 170.38 L307.71 170.81 L309.36 171.26 L311.00 171.73 L312.64 172.22 L314.26 172.75 L315.88 173.29 L317.48 173.87 L319.07 174.48 L320.64 175.11 L322.19 175.79 L323.73 176.49 L325.24 177.23 L326.74 178.01 L328.21 178.82 L329.67 179.66 L331.11 180.53 L332.53 181.43 L333.93 182.36 L335.32 183.31 L336.69 184.28 L338.06 185.27 L339.40 186.29 L340.74 187.32 L342.07 188.36 L343.38 189.42 L344.69 190.49 L345.99 191.58 L347.28 192.67 L348.56 193.76 L349.84 194.87 L351.11 195.98 L352.38 197.10 L353.64 198.23 L354.89 199.36 L356.14 200.50 L357.38 201.64 L358.62 202.80 L359.86 203.95 L361.08 205.11 L362.31 206.28 L363.53 207.45 L364.74 208.63 L365.96 209.81 L367.16 210.99 L368.37 212.18 L369.57 213.37 L370.77 214.56 L371.97 215.76 L373.16 216.96 L374.35 218.16 L375.54 219.37 L376.73 220.58 L377.91 221.78 L379.10 222.99 L380.28 224.21 L381.46 225.42 L382.64 226.63 L383.82 227.85 L385.01 229.06 L386.19 230.28 L387.37 231.49 L388.55 232.70 L389.73 233.92 L390.91 235.13 L392.09 236.34 L393.27 237.56 L394.45 238.77 L395.63 239.98 L396.80 241.20 L397.98 242.41 L399.15 243.63 L400.33 244.85 L401.50 246.07 L402.67 247.29 L403.84 248.51 L405.00 249.73 L406.16 250.96 L407.32 252.19 L408.48 253.42 L409.63 254.66 L410.78 255.89 L411.93 257.13 L413.07 258.38 L414.21 259.62 L415.34 260.87 L416.47 262.13 L417.60 263.39 L418.72 264.65 L419.83 265.92 L420.94 267.19 L422.04 268.46 L423.14 269.74 L424.23 271.03 L425.32 272.32 L426.40 273.62 L427.47 274.92 L428.54 276.23 L429.59 277.54 L430.65 278.86 L431.69 280.19 L432.73 281.53 L433.76 282.87 L434.78 284.21 L435.79 285.57 L436.80 286.93 L437.79 288.30 L438.78 289.67 L439.77 291.05 L440.75 292.43 L441.72 293.82 L442.69 295.21 L443.65 296.61 L444.61 298.01 L445.57 299.41 L446.53 300.81 L447.48 302.22 L448.43 303.62 L449.39 305.03 L450.34 306.43 L451.29 307.84 L452.25 309.24 L453.20 310.64 L454.16 312.04 L455.12 313.44 L456.08 314.83 L457.05 316.22 L458.02 317.61 L459.00 318.99 L459.99 320.37 L460.98 321.74 L461.97 323.10 L462.97 324.47 L463.97 325.82 L464.98 327.18 L465.98 328.53 L466.99 329.89 L468.00 331.24 L469.00 332.59 L470.01 333.94 L471.01 335.30 L472.01 336.66 L473.00 338.02 L473.99 339.39 L474.97 340.76 L475.94 342.14 L476.91 343.52 L477.87 344.91 L478.82 346.31 L479.75 347.72 L480.68 349.14 L481.59 350.57 L482.49 352.01 L483.37 353.46 L484.24 354.92 L485.10 356.40" fill="none" stroke="#4d9900" stroke-width="1.70" stroke-linejoin="round" stroke-dasharray="6.5 4.7"/>
<path d="M299.52 183.49 L301.56 183.67 L303.60 183.84 L305.64 184.01 L307.68 184.18 L309.72 184.35 L311.76 184.52 L313.80 184.68 L315.84 184.85 L317.88 185.02 L319.92 185.19 L321.96 185.36 L324.00 185.54 L326.04 185.71 L328.08 185.89 L330.12 186.06 L332.17 186.24 L334.21 186.42 L336.25 186.60 L338.29 186.79 L340.33 186.98 L342.37 187.17 L344.41 187.36 L346.45 187.56 L348.49 187.76 L350.53 187.97 L352.57 188.18 L354.61 188.39 L356.65 188.61 L358.69 188.83 L360.73 189.06 L362.77 189.29 L364.80 189.53 L366.84 189.77 L368.88 190.03 L370.91 190.29 L372.95 190.56 L374.98 190.84 L377.01 191.14 L379.04 191.44 L381.06 191.76 L383.09 192.09 L385.11 192.43 L387.13 192.79 L389.14 193.16 L391.16 193.55 L393.17 193.95 L395.17 194.37 L397.18 194.81 L399.18 195.27 L401.17 195.75 L403.16 196.25 L405.15 196.77 L407.13 197.31 L409.11 197.87 L411.08 198.46 L413.05 199.06 L415.01 199.69 L416.96 200.34 L418.91 201.01 L420.85 201.70 L422.78 202.41 L424.70 203.15 L426.61 203.90 L428.52 204.68 L430.41 205.48 L432.30 206.30 L434.17 207.15 L436.04 208.01 L437.89 208.90 L439.73 209.81 L441.56 210.74 L443.38 211.69 L445.19 212.67 L446.98 213.67 L448.75 214.68 L450.52 215.72 L452.27 216.79 L454.00 217.87 L455.72 218.98 L457.42 220.11 L459.11 221.26 L460.78 222.43 L462.43 223.63 L464.07 224.84 L465.69 226.08 L467.29 227.35 L468.87 228.63 L470.43 229.93 L471.98 231.26 L473.50 232.61 L475.00 233.99 L476.49 235.38 L477.95 236.80 L479.39 238.24 L480.81 239.70 L482.20 241.18 L483.58 242.69 L484.93 244.21 L486.27 245.75 L487.58 247.32 L488.88 248.90 L490.15 250.50 L491.40 252.12 L492.64 253.75 L493.85 255.40 L495.04 257.07 L496.22 258.76 L497.37 260.46 L498.51 262.17 L499.63 263.90 L500.72 265.64 L501.80 267.39 L502.86 269.16 L503.91 270.94 L504.93 272.73 L505.94 274.53 L506.93 276.35 L507.90 278.17 L508.85 280.00 L509.79 281.84 L510.71 283.69 L511.61 285.55 L512.50 287.42 L513.37 289.29 L514.22 291.17 L515.05 293.05 L515.87 294.94 L516.68 296.84 L517.47 298.74 L518.24 300.64 L519.00 302.55 L519.74 304.46 L520.47 306.38 L521.18 308.30 L521.88 310.22 L522.57 312.14 L523.25 314.07 L523.91 316.00 L524.57 317.94 L525.21 319.88 L525.84 321.82 L526.46 323.76 L527.07 325.71 L527.68 327.66 L528.27 329.61 L528.86 331.56 L529.44 333.52 L530.01 335.48 L530.58 337.44 L531.14 339.41 L531.69 341.37 L532.24 343.34 L532.79 345.31 L533.33 347.28 L533.87 349.26 L534.40 351.23 L534.93 353.21 L535.46 355.19 L535.99 357.17" fill="none" stroke="#0033ff" stroke-width="1.70" stroke-linejoin="round" stroke-dasharray="6.5 4.7"/>
<g stroke="#000" stroke-width="1.25" fill="none"><path d="M358.80 113.40 V222.30 M356.30 113.40 H361.30 M356.30 222.30 H361.30 M350.10 142.60 H367.70 M350.10 139.40 V145.80 M367.70 139.40 V145.80"/></g>
<rect x="356.00" y="139.80" width="5.6" height="5.6" fill="#000"/>
<g stroke="#000" stroke-width="1.25" fill="none"><path d="M375.70 89.80 V115.10 M373.20 89.80 H378.20 M373.20 115.10 H378.20 M367.00 100.90 H384.60 M367.00 97.70 V104.10 M384.60 97.70 V104.10"/></g>
<rect x="372.90" y="98.10" width="5.6" height="5.6" fill="#000"/>
<g stroke="#000" stroke-width="1.25" fill="none"><path d="M392.50 143.30 V206.60 M390.00 143.30 H395.00 M390.00 206.60 H395.00 M384.10 166.60 H401.00 M384.10 163.40 V169.80 M401.00 163.40 V169.80"/></g>
<rect x="389.70" y="163.80" width="5.6" height="5.6" fill="#000"/>
<g stroke="#000" stroke-width="1.25" fill="none"><path d="M409.40 164.20 V260.00 M406.90 164.20 H411.90 M406.90 260.00 H411.90 M401.00 194.10 H417.80 M401.00 190.90 V197.30 M417.80 190.90 V197.30"/></g>
<rect x="406.60" y="191.30" width="5.6" height="5.6" fill="#000"/>
<g stroke="#000" stroke-width="1.25" fill="none"><path d="M426.40 156.50 V216.30 M423.90 156.50 H428.90 M423.90 216.30 H428.90 M417.80 180.00 H435.20 M417.80 176.80 V183.20 M435.20 176.80 V183.20"/></g>
<rect x="423.60" y="177.20" width="5.6" height="5.6" fill="#000"/>
<g stroke="#000" stroke-width="1.25" fill="none"><path d="M460.00 140.40 V177.00 M457.50 140.40 H462.50 M457.50 177.00 H462.50 M451.30 156.50 H468.60 M451.30 153.30 V159.70 M468.60 153.30 V159.70"/></g>
<rect x="457.20" y="153.70" width="5.6" height="5.6" fill="#000"/>
<g stroke="#444444" stroke-width="1.4"><path d="M443.10 231.70 V282.30"/><path stroke-width="1" d="M440.60 231.70 H445.60"/></g><path d="M439.90 280.00 L446.30 280.00 L443.10 286.30Z" fill="#111"/>
<g stroke="#444444" stroke-width="1.4"><path d="M476.30 231.00 V281.60"/><path stroke-width="1" d="M473.80 231.00 H478.80"/></g><path d="M473.10 279.30 L479.50 279.30 L476.30 285.60Z" fill="#111"/>
<g stroke="#444444" stroke-width="1.4"><path d="M494.00 277.50 V328.40"/><path stroke-width="1" d="M491.50 277.50 H496.50"/></g><path d="M490.80 326.10 L497.20 326.10 L494.00 332.40Z" fill="#111"/>
</g>
<text x="136.10" y="380.70" font-size="15.9" fill="#111111" textLength="19.20" lengthAdjust="spacing" stroke="#fff" stroke-width="0.25">10</text>
<text x="155.20" y="372.70" font-size="9.6" fill="#000" textLength="6.60" lengthAdjust="spacingAndGlyphs">0</text>
<text x="237.34" y="380.70" font-size="15.9" fill="#111111" textLength="19.20" lengthAdjust="spacing" stroke="#fff" stroke-width="0.25">10</text>
<text x="256.44" y="372.70" font-size="9.6" fill="#000" textLength="6.60" lengthAdjust="spacingAndGlyphs">2</text>
<text x="338.58" y="380.70" font-size="15.9" fill="#111111" textLength="19.20" lengthAdjust="spacing" stroke="#fff" stroke-width="0.25">10</text>
<text x="357.68" y="372.70" font-size="9.6" fill="#000" textLength="6.60" lengthAdjust="spacingAndGlyphs">4</text>
<text x="439.82" y="380.70" font-size="15.9" fill="#111111" textLength="19.20" lengthAdjust="spacing" stroke="#fff" stroke-width="0.25">10</text>
<text x="458.92" y="372.70" font-size="9.6" fill="#000" textLength="6.60" lengthAdjust="spacingAndGlyphs">6</text>
<text x="541.06" y="380.70" font-size="15.9" fill="#111111" textLength="19.20" lengthAdjust="spacing" stroke="#fff" stroke-width="0.25">10</text>
<text x="560.16" y="372.70" font-size="9.6" fill="#000" textLength="6.60" lengthAdjust="spacingAndGlyphs">8</text>
<text x="58.30" y="41.70" font-size="15.6" fill="#111111" textLength="19.00" lengthAdjust="spacing" stroke="#fff" stroke-width="0.25">10</text>
<text x="78.00" y="33.50" font-size="9.6" fill="#000" textLength="13.40" lengthAdjust="spacingAndGlyphs">−6</text>
<text x="58.30" y="145.70" font-size="15.6" fill="#111111" textLength="19.00" lengthAdjust="spacing" stroke="#fff" stroke-width="0.25">10</text>
<text x="78.00" y="137.50" font-size="9.6" fill="#000" textLength="13.40" lengthAdjust="spacingAndGlyphs">−7</text>
<text x="58.30" y="254.60" font-size="15.6" fill="#111111" textLength="19.00" lengthAdjust="spacing" stroke="#fff" stroke-width="0.25">10</text>
<text x="78.00" y="246.40" font-size="9.6" fill="#000" textLength="13.40" lengthAdjust="spacingAndGlyphs">−8</text>
<text x="58.30" y="358.10" font-size="15.6" fill="#111111" textLength="19.00" lengthAdjust="spacing" stroke="#fff" stroke-width="0.25">10</text>
<text x="78.00" y="349.90" font-size="9.6" fill="#000" textLength="13.40" lengthAdjust="spacingAndGlyphs">−9</text>
<text x="273.00" y="400.90" font-size="16.3" fill="#111111" textLength="52.40" lengthAdjust="spacingAndGlyphs" stroke="#fff" stroke-width="0.25">Energy</text>
<text x="333.80" y="400.90" font-size="16.3" fill="#111111" textLength="42.40" lengthAdjust="spacingAndGlyphs" stroke="#fff" stroke-width="0.25">(GeV)</text>
<g transform="translate(43.4,302) rotate(-90)">
<path d="M35.6 3.2 L45.3 -13.2" stroke="#111111" stroke-width="1.05" fill="none"/>
<g transform="scale(1,1.1)">
<text x="-1.60" y="0.00" font-size="15" fill="#111111" textLength="9.40" lengthAdjust="spacingAndGlyphs" stroke="#fff" stroke-width="0.25">E</text>
<text x="8.10" y="-7.00" font-size="9.8" fill="#111111">2</text>
<text x="14.40" y="0.00" font-size="15" fill="#111111" textLength="9.20" lengthAdjust="spacingAndGlyphs" stroke="#fff" stroke-width="0.25">d</text>
<text x="24.00" y="0.00" font-size="15" fill="#111111" textLength="10.60" lengthAdjust="spacingAndGlyphs" stroke="#fff" stroke-width="0.25">N</text>
<text x="46.70" y="0.00" font-size="15" fill="#111111" textLength="9.20" lengthAdjust="spacingAndGlyphs" stroke="#fff" stroke-width="0.25">d</text>
<text x="56.40" y="0.00" font-size="15" fill="#111111" textLength="9.40" lengthAdjust="spacingAndGlyphs" stroke="#fff" stroke-width="0.25">E</text>
<text x="74.40" y="0.00" font-size="15" fill="#111111" textLength="6.00" lengthAdjust="spacingAndGlyphs" stroke="#fff" stroke-width="0.25">(</text>
<text x="80.30" y="0.00" font-size="15" fill="#111111" textLength="10.20" lengthAdjust="spacingAndGlyphs" stroke="#fff" stroke-width="0.25">G</text>
<text x="90.30" y="0.00" font-size="15" fill="#111111" textLength="8.60" lengthAdjust="spacingAndGlyphs" stroke="#fff" stroke-width="0.25">e</text>
<text x="100.10" y="0.00" font-size="15" fill="#111111" textLength="9.60" lengthAdjust="spacingAndGlyphs" stroke="#fff" stroke-width="0.25">V</text>
<text x="119.90" y="0.00" font-size="15" fill="#111111" textLength="7.60" lengthAdjust="spacingAndGlyphs" stroke="#fff" stroke-width="0.25">c</text>
<text x="128.30" y="0.00" font-size="15" fill="#111111" textLength="13.00" lengthAdjust="spacingAndGlyphs" stroke="#fff" stroke-width="0.25">m</text>
<text x="143.30" y="-7.00" font-size="9.8" fill="#111111" textLength="6.40" lengthAdjust="spacingAndGlyphs">−</text>
<text x="150.20" y="-7.00" font-size="9.8" fill="#111111" textLength="7.40" lengthAdjust="spacingAndGlyphs">2</text>
<text x="158.20" y="0.00" font-size="15" fill="#111111" textLength="7.80" lengthAdjust="spacingAndGlyphs" stroke="#fff" stroke-width="0.25">s</text>
<text x="168.40" y="-7.00" font-size="9.8" fill="#111111" textLength="6.40" lengthAdjust="spacingAndGlyphs">−</text>
<text x="175.60" y="-7.00" font-size="9.8" fill="#111111">1</text>
<text x="182.60" y="0.00" font-size="15" fill="#111111" textLength="7.80" lengthAdjust="spacingAndGlyphs" stroke="#fff" stroke-width="0.25">s</text>
<text x="190.50" y="0.00" font-size="15" fill="#111111" stroke="#fff" stroke-width="0.25">r</text>
<text x="198.40" y="-7.00" font-size="9.8" fill="#111111" textLength="6.40" lengthAdjust="spacingAndGlyphs">−</text>
<text x="206.20" y="-7.00" font-size="9.8" fill="#111111">1</text>
<text x="211.60" y="0.00" font-size="15" fill="#111111" textLength="6.00" lengthAdjust="spacingAndGlyphs" stroke="#fff" stroke-width="0.25">)</text>
</g></g>
<text x="198.00" y="63.50" font-size="16.5" fill="#ff0000" textLength="30.80" lengthAdjust="spacingAndGlyphs">EGB</text>
<text x="120.00" y="106.70" font-size="16.5" fill="#ff38b4" textLength="36.80" lengthAdjust="spacingAndGlyphs">IGRB</text>
<text x="120.60" y="259.80" font-size="14" fill="#222" textLength="23.40" lengthAdjust="spacingAndGlyphs" stroke="#fff" stroke-width="0.25">SPL</text>
<text x="151.20" y="259.80" font-size="15" fill="#222" class="se">Γ</text>
<text x="158.60" y="262.90" font-size="8.6" fill="#222" textLength="10.80" lengthAdjust="spacingAndGlyphs">CR</text>
<text x="170.40" y="259.80" font-size="14" fill="#222" textLength="9.40" lengthAdjust="spacingAndGlyphs" stroke="#fff" stroke-width="0.25">=</text>
<text x="180.40" y="259.80" font-size="14" fill="#222" textLength="19.60" lengthAdjust="spacingAndGlyphs" stroke="#fff" stroke-width="0.25">2.3</text>
<text x="120.60" y="292.30" font-size="14" fill="#0033ff" textLength="23.40" lengthAdjust="spacingAndGlyphs" stroke="#fff" stroke-width="0.25">SPL</text>
<text x="151.20" y="292.30" font-size="15" fill="#0033ff" class="se">Γ</text>
<text x="158.60" y="295.40" font-size="8.6" fill="#0033ff" textLength="10.80" lengthAdjust="spacingAndGlyphs">CR</text>
<text x="170.40" y="292.30" font-size="14" fill="#0033ff" textLength="9.40" lengthAdjust="spacingAndGlyphs" stroke="#fff" stroke-width="0.25">=</text>
<text x="180.40" y="292.30" font-size="14" fill="#0033ff" textLength="18.20" lengthAdjust="spacingAndGlyphs" stroke="#fff" stroke-width="0.25">2.1</text>
<text x="120.60" y="324.80" font-size="14" fill="#4d9900" textLength="23.40" lengthAdjust="spacingAndGlyphs" stroke="#fff" stroke-width="0.25">BPL</text>
<text x="151.20" y="324.80" font-size="15" fill="#4d9900" class="se">Γ</text>
<text x="158.60" y="327.90" font-size="8.6" fill="#4d9900" textLength="10.80" lengthAdjust="spacingAndGlyphs">CR</text>
<text x="170.40" y="324.80" font-size="14" fill="#4d9900" textLength="9.40" lengthAdjust="spacingAndGlyphs" stroke="#fff" stroke-width="0.25">=</text>
<text x="180.40" y="324.80" font-size="14" fill="#4d9900" textLength="49.30" lengthAdjust="spacingAndGlyphs" stroke="#fff" stroke-width="0.25">2.0/2.5</text>
<path d="M292 47.5 H321" stroke="#000" stroke-width="1" stroke-dasharray="5 3"/>
<text x="335.00" y="52.40" font-size="19" fill="#111111" font-style="italic" class="se">ν</text>
<path d="M393 47.5 H423.6" stroke="#000" stroke-width="1"/>
<path d="M393 75.5 H423.6" stroke="#000" stroke-width="1" stroke-dasharray="1 1.55"/>
<text x="435.40" y="52.60" font-size="18" fill="#111111" textLength="9.60" lengthAdjust="spacingAndGlyphs" font-style="italic" class="se" stroke="#fff" stroke-width="0.35">γ</text>
<text x="454.90" y="52.30" font-size="18.3" fill="#111111" textLength="5.60" lengthAdjust="spacingAndGlyphs" stroke="#fff" stroke-width="0.25">(</text>
<text x="462.20" y="52.60" font-size="16.5" fill="#111111" textLength="11.00" lengthAdjust="spacingAndGlyphs" stroke="#fff" stroke-width="0.25">π</text>
<text x="472.60" y="46.80" font-size="11.4" fill="#111111" textLength="7.00" lengthAdjust="spacingAndGlyphs">0</text>
<text x="480.00" y="53.20" font-size="16.5" fill="#111111" textLength="11.80" lengthAdjust="spacingAndGlyphs" stroke="#fff" stroke-width="0.25">+</text>
<text x="492.20" y="52.60" font-size="16.5" fill="#111111" textLength="27.20" lengthAdjust="spacingAndGlyphs" stroke="#fff" stroke-width="0.25">cas</text>
<text x="519.80" y="52.30" font-size="18.3" fill="#111111" textLength="5.60" lengthAdjust="spacingAndGlyphs" stroke="#fff" stroke-width="0.25">)</text>
<text x="435.40" y="78.90" font-size="18" fill="#111111" textLength="9.60" lengthAdjust="spacingAndGlyphs" font-style="italic" class="se" stroke="#fff" stroke-width="0.35">γ</text>
<text x="454.90" y="78.60" font-size="18.3" fill="#111111" textLength="5.60" lengthAdjust="spacingAndGlyphs" stroke="#fff" stroke-width="0.25">(</text>
<text x="462.20" y="78.90" font-size="16.5" fill="#111111" textLength="11.00" lengthAdjust="spacingAndGlyphs" stroke="#fff" stroke-width="0.25">π</text>
<text x="472.60" y="73.10" font-size="11.4" fill="#111111" textLength="7.00" lengthAdjust="spacingAndGlyphs">0</text>
<text x="487.10" y="78.90" font-size="16.5" fill="#111111" textLength="32.20" lengthAdjust="spacingAndGlyphs" stroke="#fff" stroke-width="0.25">only</text>
<text x="519.80" y="78.60" font-size="18.3" fill="#111111" textLength="5.60" lengthAdjust="spacingAndGlyphs" stroke="#fff" stroke-width="0.25">)</text>
<text x="374.8" y="135.7" font-size="10.5" fill="#000" stroke="#000" stroke-width="0.12" textLength="143.4" lengthAdjust="spacing">IC15 (all flavor, combined)</text>
<text x="452.00" y="197.20" font-size="16.5" fill="#3eb0ff" class="se" font-style="italic">ν</text>
<text x="459.60" y="199.60" font-size="9" fill="#3eb0ff" class="se" font-style="italic">μ</text>
<text x="469.40" y="197.00" font-size="11.5" fill="#3eb0ff" textLength="68.80" lengthAdjust="spacingAndGlyphs">Best−Fit × 3</text>
</svg></body></html>
